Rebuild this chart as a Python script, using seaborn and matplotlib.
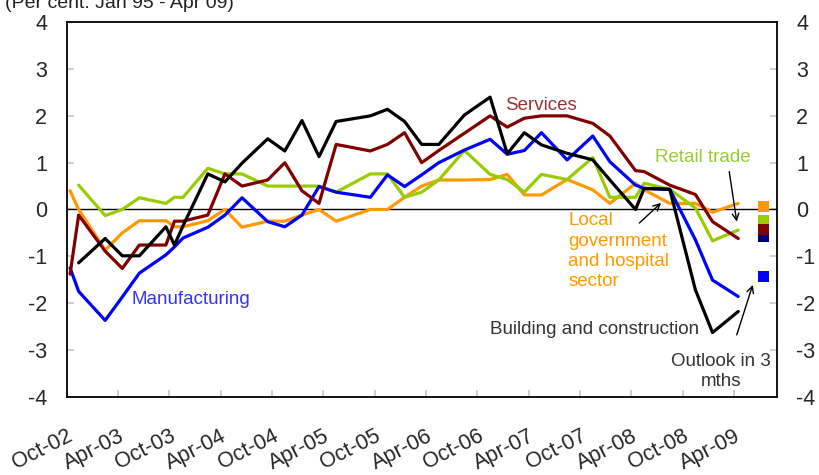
import numpy as np
import pandas as pd
import matplotlib
matplotlib.use("Agg")
import matplotlib.pyplot as plt
import seaborn as sns

# ============================================
# DONNÉES (mois depuis Oct-02)
# ============================================
months = [0.4, 1.4, 4.5, 6.5, 8.5, 11.6, 12.6, 13.6, 16.5, 18.5, 20.5, 23.5, 25.5, 27.5,
          29.5, 31.5, 35.5, 37.5, 39.5, 41.5, 43.5, 46.5, 49.5, 51.5, 53.5, 55.5, 58.5,
          61.5, 63.5, 66.5, 67.5, 70.5, 73.5, 75.5, 78.5]

manufacturing = [-1.25, -1.75, -2.37, -1.87, -1.36, -0.97, -0.8, -0.61, -0.38, -0.12, 0.25,
                 -0.26, -0.37, -0.12, 0.49, 0.37, 0.26, 0.74, 0.49, 0.74, 1.0, 1.27, 1.5,
                 1.18, 1.26, 1.64, 1.06, 1.57, 1.02, 0.52, 0.45, 0.43, -0.65, -1.51, -1.86]

building = [np.nan, -1.14, -0.62, -0.99, -0.99, -0.37, -0.76, -0.35, 0.76, 0.59, 0.99,
            1.51, 1.25, 1.9, 1.13, 1.88, 2.0, 2.14, 1.88, 1.39, 1.39, 2.02, 2.4,
            1.19, 1.64, 1.38, 1.2, 1.06, 0.63, 0.0, 0.45, 0.43, -1.72, -2.63, -2.18]

services = [-1.38, -0.12, -0.89, -1.26, -0.76, -0.76, -0.25, -0.25, -0.12, 0.76, 0.5,
            0.63, 1.0, 0.4, 0.13, 1.39, 1.25, 1.39, 1.64, 1.0, 1.26, 1.63, 2.0,
            1.76, 1.95, 2.0, 2.0, 1.84, 1.57, 0.83, 0.81, 0.52, 0.32, -0.26, -0.62]

retail = [np.nan, 0.52, -0.13, 0.0, 0.25, 0.13, 0.26, 0.26, 0.88, 0.76, 0.76,
          0.5, 0.5, 0.5, 0.5, 0.37, 0.76, 0.76, 0.26, 0.37, 0.63, 1.26, 0.75,
          0.64, 0.37, 0.75, 0.64, 1.11, 0.26, 0.26, 0.56, 0.43, 0.03, -0.67, -0.44]

local_gov = [0.4, 0.0, -0.87, -0.5, -0.24, -0.24, -0.37, -0.37, -0.24, 0.0, -0.38,
             -0.25, -0.25, -0.12, 0.0, -0.25, 0.0, 0.0, 0.26, 0.5, 0.63, 0.63, 0.64,
             0.75, 0.31, 0.31, 0.64, 0.42, 0.13, 0.56, 0.42, 0.13, 0.13, -0.06, 0.13]

# Perspectives à 3 mois (carrés à droite)
outlook_month = 81.5
outlook_values = [-0.57, 0.07, -0.24, -0.43, -1.44]
outlook_colors = ['#000080', '#FF9900', '#99CC00', '#800000', '#0000FF']

tick_months = list(range(0, 79, 6))
tick_labels = ['Oct-02', 'Apr-03', 'Oct-03', 'Apr-04', 'Oct-04', 'Apr-05', 'Oct-05',
               'Apr-06', 'Oct-06', 'Apr-07', 'Oct-07', 'Apr-08', 'Oct-08', 'Apr-09']

# ============================================
# STYLE
# ============================================
sns.set_theme(style='white')
plt.rcParams['font.family'] = ['Liberation Sans', 'DejaVu Sans']
plt.rcParams['axes.unicode_minus'] = False

fig = plt.figure(figsize=(8.2, 4.75), dpi=100)
ax = fig.add_axes([0.0813, 0.1649, 0.8659, 0.7882])

ax.axhline(0, color='black', lw=1.0, zorder=1)

series = [
    (local_gov, '#FF9900'),
    (retail, '#99CC00'),
    (manufacturing, '#0000FF'),
    (services, '#800000'),
    (building, '#000000'),
]
for values, color in series:
    df = pd.DataFrame({'month': months, 'value': values}).dropna()
    sns.lineplot(data=df, x='month', y='value', color=color, lw=2.3, sort=False, ax=ax,
                 zorder=3)

out_df = pd.DataFrame({'month': [outlook_month] * len(outlook_values),
                       'value': outlook_values, 'c': outlook_colors})
for _, row in out_df.iterrows():
    sns.scatterplot(x=[row['month']], y=[row['value']], marker='s', s=62,
                    color=row['c'], edgecolor='none', ax=ax, zorder=4)

# ============================================
# AXES
# ============================================
ax.set_xlim(0, 83)
ax.set_ylim(-4, 4)
ax.set_xlabel('')
ax.set_ylabel('')
ax.set_xticks(tick_months)
ax.set_xticklabels(tick_labels, rotation=27, ha='right', va='top', rotation_mode='anchor',
                   fontsize=15.5)
ax.set_yticks(range(-4, 5))
ax.tick_params(axis='y', which='both', direction='in', length=5, color='#c8c8c8',
               labelsize=15.5, pad=14, left=True, right=True, labelleft=True, labelright=True)
ax.tick_params(axis='x', direction='in', length=5, color='#c8c8c8', pad=21, bottom=True)
for sp in ax.spines.values():
    sp.set_color('black')
    sp.set_linewidth(1.3)

# ============================================
# ANNOTATIONS
# ============================================
fs = 13.5
ax.text(55.45, 2.23, 'Services', color='#993333', fontsize=fs, ha='center', va='center')
ax.text(74.4, 1.115, 'Retail trade', color='#99CC33', fontsize=fs, ha='center', va='center')
ax.text(58.64, -0.89, 'Local\ngovernment\nand hospital\nsector', color='#FF9900',
        fontsize=fs, ha='left', va='center', linespacing=1.25)
ax.text(7.6, -1.93, 'Manufacturing', color='#3333FF', fontsize=fs, ha='left', va='center')
ax.text(73.95, -2.56, 'Building and construction', color='#333333', fontsize=fs,
        ha='right', va='center')
ax.text(76.53, -3.46, 'Outlook in 3\nmths', color='#333333', fontsize=fs, ha='center',
        va='center', linespacing=1.25)

arrow = dict(arrowstyle='->', color='black', lw=1.0, shrinkA=0, shrinkB=0)
ax.annotate('', xy=(78.33, -0.26), xytext=(77.45, 0.81), arrowprops=arrow)
ax.annotate('', xy=(69.48, 0.14), xytext=(66.94, -0.29), arrowprops=arrow)
ax.annotate('', xy=(80.2, -1.61), xytext=(78.33, -2.68), arrowprops=arrow)

fig.text(5 / 820, 1 - 8 / 475, '(Per cent: Jan 95 - Apr 09)', fontsize=14, ha='left',
         va='baseline', color='#222222')

plt.savefig('out.png', dpi=100)
